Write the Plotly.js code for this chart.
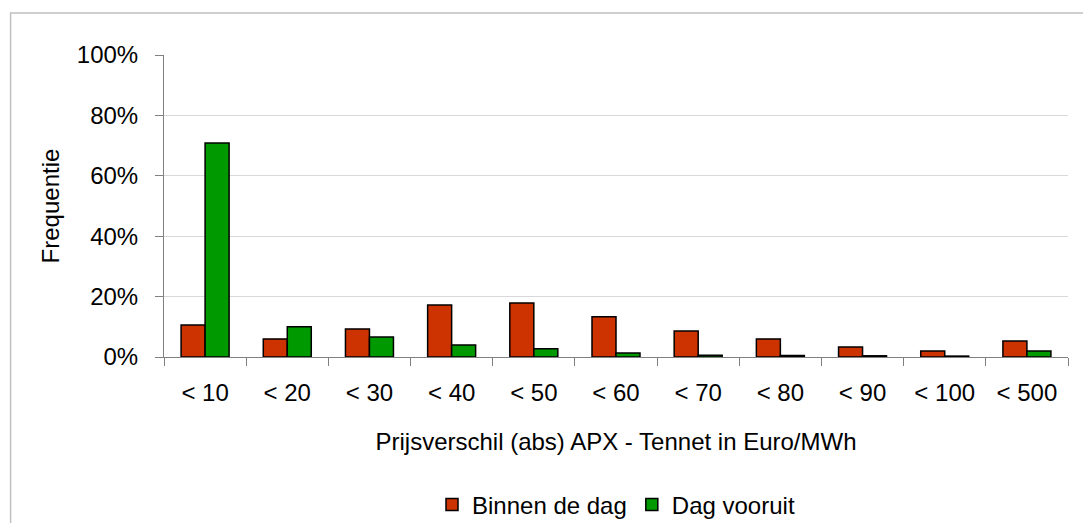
<!DOCTYPE html>
<html>
<head>
<meta charset="utf-8">
<script src="https://cdn.plot.ly/plotly-3.0.1.min.js"></script>
<style>
  html, body { margin: 0; padding: 0; background: #ffffff; }
  #chart { width: 1083px; height: 523px; }
</style>
</head>
<body>
<div id="chart"></div>
<script>
// Categories (price difference bins, Euro/MWh)
const categories = ["< 10", "< 20", "< 30", "< 40", "< 50", "< 60", "< 70", "< 80", "< 90", "< 100", "< 500"];
// Frequency in percent
const binnenDeDag = [10.6, 6.0, 9.3, 17.2, 17.9, 13.3, 8.6, 6.0, 3.3, 2.0, 5.3];
const dagVooruit  = [70.9, 10.0, 6.6, 4.0, 2.7, 1.3, 0.6, 0.5, 0.4, 0.3, 2.0];
const seriesNames = ["Binnen de dag", "Dag vooruit"];
const yTickVals   = [0, 20, 40, 60, 80, 100];
const yTickLabels = ["0%", "20%", "40%", "60%", "80%", "100%"];

const FONT = '"Liberation Sans", Arial, sans-serif';
const FS = 24;

const traces = [
  {
    type: 'bar', name: seriesNames[0], x: categories, y: binnenDeDag,
    marker: { color: '#cc3300', line: { color: '#000000', width: 1.5 } },
    hoverinfo: 'skip'
  },
  {
    type: 'bar', name: seriesNames[1], x: categories, y: dagVooruit,
    marker: { color: '#009900', line: { color: '#000000', width: 1.5 } },
    hoverinfo: 'skip'
  }
];

const layout = {
  width: 1083, height: 523,
  margin: { l: 163.5, r: 15, t: 55, b: 166, pad: 0, autoexpand: false },
  paper_bgcolor: '#ffffff', plot_bgcolor: '#ffffff',
  font: { family: FONT, size: FS, color: '#000000' },
  barmode: 'group', bargap: 0.416, bargroupgap: 0,
  showlegend: true,
  legend: {
    orientation: 'h', x: 0.5, xanchor: 'center', y: -0.49, yanchor: 'middle',
    font: { family: FONT, size: FS, color: '#000000' },
    itemclick: false, itemdoubleclick: false
  },
  xaxis: {
    type: 'category', automargin: false,
    showline: true, linecolor: '#808080', linewidth: 1,
    ticks: 'outside', tickson: 'boundaries', ticklen: 8, tickcolor: '#808080', tickwidth: 1,
    ticklabelstandoff: 14,
    showgrid: false, zeroline: false,
    tickfont: { family: FONT, size: FS, color: '#000000' },
    title: { text: 'Prijsverschil (abs) APX - Tennet in Euro/MWh', standoff: 28,
             font: { family: FONT, size: FS, color: '#000000' } }
  },
  yaxis: {
    range: [0, 100], tickmode: 'array', tickvals: yTickVals, ticktext: yTickLabels, automargin: false,
    showline: true, linecolor: '#808080', linewidth: 1,
    ticks: 'outside', ticklen: 8, tickcolor: '#808080', tickwidth: 1,
    ticklabelstandoff: 12,
    showgrid: true, gridcolor: '#d9d9d9', gridwidth: 1, zeroline: false,
    tickfont: { family: FONT, size: FS, color: '#000000' },
    title: { text: 'Frequentie', standoff: 10,
             font: { family: FONT, size: FS, color: '#000000' } }
  },
  shapes: [
    { type: 'rect', xref: 'paper', yref: 'paper',
      x0: (10 - 163.5) / 904.5, x1: (1090 - 163.5) / 904.5,
      y0: (357 - 540) / 302, y1: (357 - 13) / 302,
      line: { color: '#c0c0c0', width: 1.5 }, fillcolor: 'rgba(0,0,0,0)', layer: 'below' }
  ]
};

Plotly.newPlot('chart', traces, layout, { staticPlot: true, displayModeBar: false });
</script>
</body>
</html>
